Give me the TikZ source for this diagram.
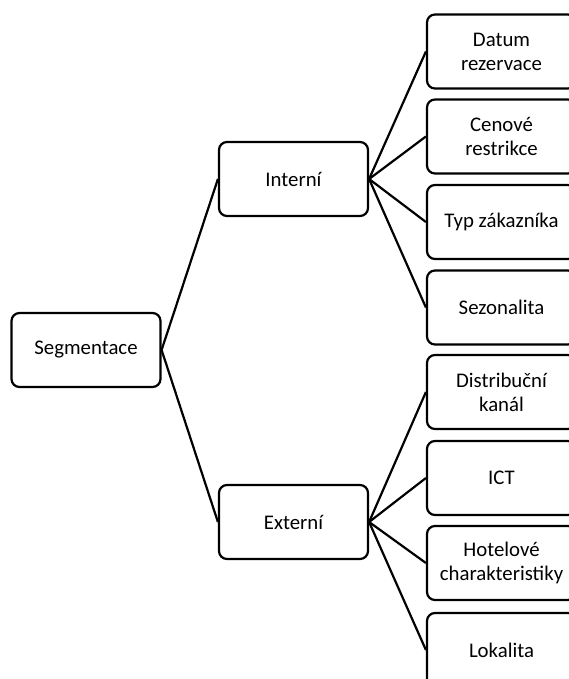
\documentclass[tikz,border=0pt]{standalone}
\usepackage{fontspec}
\setmainfont{Carlito}
\tikzset{
  box/.style={draw, line width=2.2pt, rounded corners=8pt, minimum width=149pt, minimum height=74pt, inner sep=0pt, align=center, font=\fontsize{20.8}{24}\selectfont},
  link/.style={line width=2.2pt}
}
\begin{document}
\begin{tikzpicture}[x=1pt, y=-1pt]
\useasboundingbox (0,0) rectangle (569,679);
\clip (0,0) rectangle (569,679);
\node[box] (seg) at (86,350) {Segmentace};
\node[box] (int) at (293.5,179) {Interní};
\node[box] (ext) at (293.5,522) {Externí};
\node[box] (dat) at (501.5,51.5) {Datum\\ rezervace};
\node[box] (cen) at (501.5,136.5) {Cenové\\ restrikce};
\node[box] (typ) at (501.5,222) {Typ zákazníka};
\node[box] (sez) at (501.5,307.5) {Sezonalita};
\node[box] (dis) at (501.5,392) {Distribuční\\ kanál};
\node[box] (ict) at (501.5,478) {ICT};
\node[box] (hot) at (501.5,563) {Hotelové\\ charakteristiky};
\node[box] (lok) at (501.5,650) {Lokalita};
\draw[link] (seg.east) -- (int.west);
\draw[link] (seg.east) -- (ext.west);
\draw[link] (int.east) -- (dat.west);
\draw[link] (int.east) -- (cen.west);
\draw[link] (int.east) -- (typ.west);
\draw[link] (int.east) -- (sez.west);
\draw[link] (ext.east) -- (dis.west);
\draw[link] (ext.east) -- (ict.west);
\draw[link] (ext.east) -- (hot.west);
\draw[link] (ext.east) -- (lok.west);
\end{tikzpicture}
\end{document}
